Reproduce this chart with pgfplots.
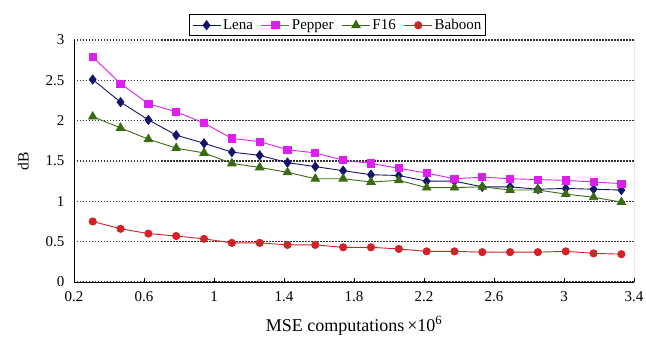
\documentclass[border=0pt]{standalone}
\usepackage{fontspec}
\setmainfont{Liberation Serif}
\usepackage{pgfplots}
\pgfplotsset{compat=1.18}
\definecolor{lena}{RGB}{20,20,105}
\definecolor{pepper}{RGB}{222,30,240}
\definecolor{ff}{RGB}{58,107,20}
\definecolor{baboon}{RGB}{212,32,39}
\begin{document}
\begin{tikzpicture}
\begin{axis}[
  scale only axis, width=560pt, height=242pt,
  xmin=0.2, xmax=3.4, ymin=0, ymax=3,
  xtick={0.2,0.6,1,1.4,1.8,2.2,2.6,3,3.4},
  xticklabels={0.2,0.6,1,1.4,1.8,2.2,2.6,3,3.4},
  ytick={0,0.5,1,1.5,2,2.5,3},
  yticklabels={0,0.5,1,1.5,2,2.5,3},
  axis x line*=bottom, axis y line*=left,
  axis line style={line width=0.9pt,-},
  x tick style={line width=0.8pt,black}, 
  tick align=inside, major tick length=4pt,
  y tick style={draw=none},
  xtick pos=bottom, ytick pos=left,
  ymajorgrids,
  grid style={line width=1.5pt, dash pattern=on 1.5pt off 1.5pt, color=black!80},
  tick label style={font=\fontsize{15}{17}\selectfont},
  /pgf/number format/assume math mode=true,
  xticklabel style={yshift=-6pt},
  yticklabel style={xshift=-6pt},
  xlabel={MSE computations\,{\texttimes}10\textsuperscript{6}},
  xlabel style={font=\fontsize{18}{20}\selectfont, yshift=-8pt},
  ylabel={dB},
  ylabel style={font=\fontsize{15.5}{17}\selectfont, yshift=10pt},
  legend columns=4,
  legend style={at={(0.471,1.016)}, anchor=south, draw=black, line width=0.8pt,
    font=\fontsize{15}{17}\selectfont, inner sep=2.5pt,
    /tikz/every even column/.append style={column sep=6pt}},
  legend image code/.code={\draw[#1] (0pt,0pt) -- (28pt,0pt); \draw[#1,mark repeat=2,mark phase=2] plot coordinates {(0pt,0pt) (14pt,0pt) (28pt,0pt)};},
  every axis plot/.append style={line width=0.9pt},
]
\addplot[color=lena, mark=diamond*, mark size=4.5pt, mark options={solid}] coordinates {
(0.307,2.51)(0.466,2.23)(0.625,2.01)(0.784,1.82)(0.943,1.72)(1.102,1.61)(1.261,1.57)(1.420,1.48)(1.579,1.43)(1.738,1.38)
(1.897,1.33)(2.056,1.32)(2.215,1.25)(2.374,1.25)(2.533,1.18)(2.692,1.18)(2.851,1.15)(3.010,1.16)(3.169,1.15)(3.328,1.14)};
\addlegendentry{Lena}
\addplot[color=pepper, mark=square*, mark size=3.6pt] coordinates {
(0.307,2.79)(0.466,2.46)(0.625,2.21)(0.784,2.11)(0.943,1.97)(1.102,1.78)(1.261,1.74)(1.420,1.64)(1.579,1.60)(1.738,1.51)
(1.897,1.47)(2.056,1.41)(2.215,1.35)(2.374,1.28)(2.533,1.30)(2.692,1.28)(2.851,1.27)(3.010,1.26)(3.169,1.24)(3.328,1.22)};
\addlegendentry{Pepper}
\addplot[color=ff, mark=triangle*, mark size=4.8pt] coordinates {
(0.307,2.05)(0.466,1.91)(0.625,1.77)(0.784,1.66)(0.943,1.60)(1.102,1.47)(1.261,1.42)(1.420,1.36)(1.579,1.28)(1.738,1.28)
(1.897,1.24)(2.056,1.26)(2.215,1.17)(2.374,1.17)(2.533,1.18)(2.692,1.14)(2.851,1.14)(3.010,1.09)(3.169,1.05)(3.328,0.99)};
\addlegendentry{F16}
\addplot[color=baboon, mark=*, mark size=3.6pt] coordinates {
(0.307,0.75)(0.466,0.66)(0.625,0.60)(0.784,0.57)(0.943,0.535)(1.102,0.485)(1.261,0.485)(1.420,0.46)(1.579,0.46)(1.738,0.43)
(1.897,0.43)(2.056,0.41)(2.215,0.38)(2.374,0.38)(2.533,0.37)(2.692,0.37)(2.851,0.37)(3.010,0.38)(3.169,0.355)(3.328,0.345)};
\addlegendentry{Baboon}
\draw[line width=0.9pt, black!75] (rel axis cs:1,0) -- (rel axis cs:1,1);
\end{axis}
\pgfresetboundingbox
\path[use as bounding box] (-74pt,-61pt) rectangle (572pt,282pt);
\end{tikzpicture}
\end{document}
